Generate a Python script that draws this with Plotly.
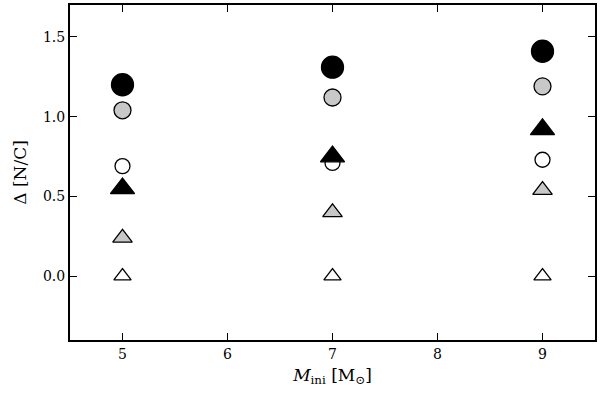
import plotly.graph_objects as go

masses = [5, 7, 9]
black_circle = [1.20, 1.31, 1.41]
gray_circle = [1.04, 1.12, 1.19]
open_circle = [0.69, 0.71, 0.73]
black_tri = [0.55, 0.75, 0.92]
gray_tri = [0.24, 0.40, 0.54]
open_tri = [0.0, 0.0, 0.0]

x_ticks = [5, 6, 7, 8, 9]
y_ticks = [0.0, 0.5, 1.0, 1.5]

fig = go.Figure()

def add(y, symbol, fill, size):
    fig.add_trace(go.Scatter(
        x=masses, y=y, mode="markers",
        marker=dict(symbol=symbol, color=fill, size=size,
                    line=dict(color="black", width=1.3)),
        showlegend=False, hoverinfo="skip"))

add(open_tri, "triangle-up", "white", 15)
add(gray_tri, "triangle-up", "#c8c8c8", 17)
add(open_circle, "circle", "white", 15)
add(gray_circle, "circle", "#c8c8c8", 17)
add(black_circle, "circle", "black", 22)
add(black_tri, "triangle-up", "black", 21)

font = dict(family="DejaVu Serif", size=14, color="black")

fig.update_layout(
    width=600, height=397,
    margin=dict(l=70, r=3, t=5, b=57),
    paper_bgcolor="white", plot_bgcolor="white",
    font=font,
    xaxis=dict(range=[4.5, 9.5], tickvals=x_ticks, ticktext=[str(v) for v in x_ticks],
               ticks="inside", ticklen=7, tickwidth=1.2, tickcolor="black",
               showline=True, linecolor="black", linewidth=2, mirror="ticks",
               showgrid=False, zeroline=False,
               title=dict(text="<i>M</i><sub>ini</sub> [M<sub>⊙</sub>]", standoff=8)),
    yaxis=dict(range=[-0.4, 1.7], tickvals=y_ticks, ticktext=[f"{v:.1f}" for v in y_ticks],
               ticks="inside", ticklen=7, tickwidth=1.2, tickcolor="black",
               showline=True, linecolor="black", linewidth=2, mirror="ticks",
               showgrid=False, zeroline=False,
               title=dict(text="Δ [N/C]", standoff=12)),
)

fig.write_html("out.html")
